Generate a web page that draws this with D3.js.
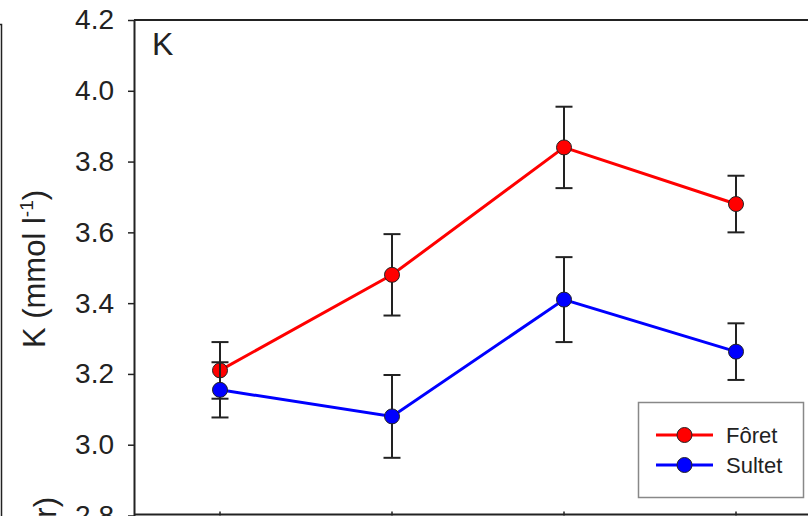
<!DOCTYPE html>
<html>
<head>
<meta charset="utf-8">
<script src="https://cdn.jsdelivr.net/npm/d3@7"></script>
<style>
  body { margin: 0; background: #fff; }
  svg { display: block; font-family: "Liberation Sans", Arial, sans-serif; }
</style>
</head>
<body>
<div id="chart"></div>
<script>
// data
const groups = [1, 2, 3, 4];
const foret = [3.21, 3.48, 3.84, 3.68];
const foretErr = [0.08, 0.115, 0.115, 0.08];
const sultet = [3.155, 3.08, 3.41, 3.263];
const sultetErr = [0.078, 0.117, 0.12, 0.08];
const yTicks = [2.8, 3.0, 3.2, 3.4, 3.6, 3.8, 4.0, 4.2];
const seriesNames = ["Fôret", "Sultet"];
const seriesColors = ["#ff0000", "#0000ff"];

const width = 808, height = 516;

const svg = d3.select("#chart").append("svg")
  .attr("width", width)
  .attr("height", height);

// x: group index, plot frame runs past right edge of the crop
const x = d3.scaleLinear().domain([0.5, 4.5]).range([134, 822]);
const y = d3.scaleLinear().domain([2.8, 4.2]).range([515.5, 20]);

// partial frame of neighbouring panel on the left
svg.append("path")
  .attr("d", "M0,24.5H1.5V516")
  .attr("fill", "none")
  .attr("stroke", "#222")
  .attr("stroke-width", 1.5);

// frame: top and bottom lines
svg.append("line")
  .attr("x1", 134).attr("x2", width)
  .attr("y1", y(4.2)).attr("y2", y(4.2))
  .attr("stroke", "#222").attr("stroke-width", 2);
svg.append("line")
  .attr("x1", 134).attr("x2", width)
  .attr("y1", y(2.8) - 1).attr("y2", y(2.8) - 1)
  .attr("stroke", "#222").attr("stroke-width", 2);

// Y axis
const yAxis = svg.append("g")
  .attr("transform", "translate(134,0)")
  .call(d3.axisLeft(y).tickValues(yTicks).tickFormat(d3.format(".1f"))
    .tickSize(6).tickSizeOuter(0).tickPadding(14));
yAxis.select(".domain").attr("stroke", "#222").attr("stroke-width", 2);
yAxis.selectAll(".tick line").attr("stroke", "#222").attr("stroke-width", 1.5);
yAxis.selectAll(".tick text")
  .attr("font-size", 28)
  .attr("font-family", "Liberation Sans, Arial, sans-serif")
  .attr("fill", "#222");

// small x ticks on the bottom line
svg.append("g")
  .selectAll("line")
  .data(groups)
  .join("line")
    .attr("x1", d => x(d)).attr("x2", d => x(d))
    .attr("y1", y(2.8) - 4).attr("y2", y(2.8))
    .attr("stroke", "#222").attr("stroke-width", 1.5);

// y label
const ylab = svg.append("text")
  .attr("transform", "translate(45,269) rotate(-90)")
  .attr("text-anchor", "middle")
  .attr("font-size", 31)
  .attr("fill", "#222");
ylab.append("tspan").text("K (mmol l");
ylab.append("tspan").attr("font-size", 19).attr("dy", -12).text("-1");
ylab.append("tspan").attr("dy", 12).text(")");

// tail of the label from the panel below
svg.append("text")
  .attr("transform", "translate(56,497) rotate(-90)")
  .attr("text-anchor", "end")
  .attr("font-size", 31)
  .attr("fill", "#222")
  .text("r)");

// panel letter
svg.append("text")
  .attr("x", 152).attr("y", 55)
  .attr("font-size", 32)
  .attr("fill", "#222")
  .text("K");

const line = d3.line().x((d, i) => x(groups[i])).y(d => y(d));

function drawSeries(values, errs, color) {
  const g = svg.append("g");
  g.append("path")
    .datum(values)
    .attr("d", line)
    .attr("fill", "none")
    .attr("stroke", color)
    .attr("stroke-width", 3);

  const eb = g.selectAll(".err")
    .data(values)
    .join("g")
      .attr("class", "err")
      .attr("stroke", "#222")
      .attr("stroke-width", 2);
  eb.append("line")
    .attr("x1", (d, i) => x(groups[i])).attr("x2", (d, i) => x(groups[i]))
    .attr("y1", (d, i) => y(d + errs[i])).attr("y2", (d, i) => y(d - errs[i]));
  eb.append("line")
    .attr("x1", (d, i) => x(groups[i]) - 8.5).attr("x2", (d, i) => x(groups[i]) + 8.5)
    .attr("y1", (d, i) => y(d + errs[i])).attr("y2", (d, i) => y(d + errs[i]));
  eb.append("line")
    .attr("x1", (d, i) => x(groups[i]) - 8.5).attr("x2", (d, i) => x(groups[i]) + 8.5)
    .attr("y1", (d, i) => y(d - errs[i])).attr("y2", (d, i) => y(d - errs[i]));

  g.selectAll("circle")
    .data(values)
    .join("circle")
      .attr("cx", (d, i) => x(groups[i]))
      .attr("cy", d => y(d))
      .attr("r", 7.5)
      .attr("fill", color)
      .attr("stroke", "#222")
      .attr("stroke-width", 1);
}

drawSeries(foret, foretErr, seriesColors[0]);
drawSeries(sultet, sultetErr, seriesColors[1]);

// legend
const legend = svg.append("g");
legend.append("rect")
  .attr("x", 638.5).attr("y", 402.5)
  .attr("width", 165).attr("height", 95)
  .attr("fill", "#fff")
  .attr("stroke", "#888")
  .attr("stroke-width", 1.5);

const items = legend.selectAll(".item")
  .data(seriesNames)
  .join("g")
    .attr("class", "item")
    .attr("transform", (d, i) => `translate(0,${435 + i * 30})`);
items.append("line")
  .attr("x1", 656).attr("x2", 713)
  .attr("stroke", (d, i) => seriesColors[i])
  .attr("stroke-width", 3);
items.append("circle")
  .attr("cx", 684.5).attr("r", 7.5)
  .attr("fill", (d, i) => seriesColors[i])
  .attr("stroke", "#222").attr("stroke-width", 1);
items.append("text")
  .attr("x", 726).attr("dy", "0.35em")
  .attr("font-size", 22)
  .attr("fill", "#222")
  .text(d => d);
</script>
</body>
</html>
